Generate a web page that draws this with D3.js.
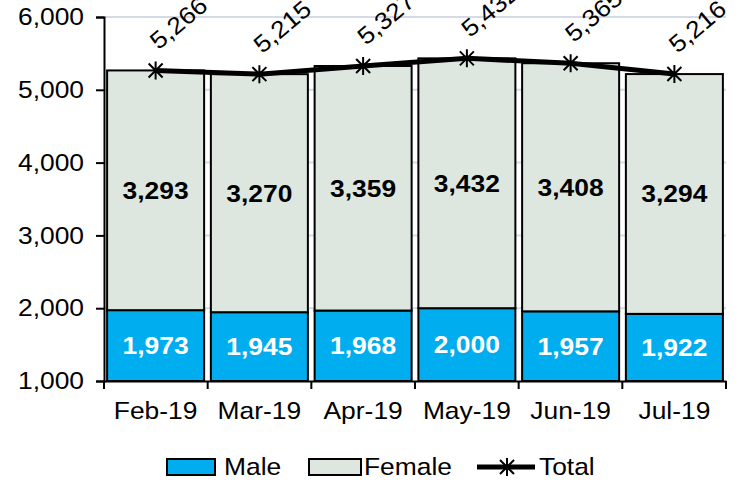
<!DOCTYPE html>
<html>
<head>
<meta charset="utf-8">
<script src="https://cdn.jsdelivr.net/npm/d3@7"></script>
<style>
  body { margin: 0; background: #fff; }
  text { font-family: "Liberation Sans", Arial, sans-serif; }
  .wide { transform-box: fill-box; transform-origin: center; transform: scaleX(1.1); }
  .wide-l { transform-box: fill-box; transform-origin: left center; transform: scaleX(1.1); }
  .wide-r { transform-box: fill-box; transform-origin: right center; transform: scaleX(1.1); }
</style>
</head>
<body>
<svg id="chart" width="745" height="480"></svg>
<script>
let months = ["Feb-19", "Mar-19", "Apr-19", "May-19", "Jun-19", "Jul-19"]
let male = [1973, 1945, 1968, 2000, 1957, 1922]
let female = [3293, 3270, 3359, 3432, 3408, 3294]
let total = [5266, 5215, 5327, 5432, 5365, 5216]
let yTicks = [1000, 2000, 3000, 4000, 5000, 6000]

let width = 745
let height = 480
let margin = { top: 17, right: 19, bottom: 99, left: 104 }

let svg = d3.select("#chart")
let fmt = d3.format(",")

let x = d3.scaleBand()
    .domain(months)
    .range([margin.left, width - margin.right])
    .paddingInner(0.065)
    .paddingOuter(0.03)

let y = d3.scaleLinear()
    .domain([1000, 6000])
    .range([height - margin.bottom, margin.top])

// gridlines
svg.append("g")
    .selectAll("line")
    .data(yTicks.slice(1))
    .join("line")
    .attr("x1", margin.left)
    .attr("x2", width - margin.right)
    .attr("y1", d => y(d))
    .attr("y2", d => y(d))
    .style("stroke", "#d5dbe6")
    .style("stroke-width", 2)

// male bars
svg.append("g")
    .selectAll("rect")
    .data(months)
    .join("rect")
    .attr("x", d => x(d))
    .attr("width", x.bandwidth())
    .attr("y", (d, i) => y(male[i]))
    .attr("height", (d, i) => y(1000) - y(male[i]))
    .style("fill", "#00aeef")
    .style("stroke", "#000")
    .style("stroke-width", 2)

// female bars
svg.append("g")
    .selectAll("rect")
    .data(months)
    .join("rect")
    .attr("x", d => x(d))
    .attr("width", x.bandwidth())
    .attr("y", (d, i) => y(male[i] + female[i]))
    .attr("height", (d, i) => y(male[i]) - y(male[i] + female[i]))
    .style("fill", "#dde7df")
    .style("stroke", "#000")
    .style("stroke-width", 2)

// axes
let yAxis = svg.append("g")
    .attr("transform", `translate(${margin.left},0)`)
    .call(d3.axisLeft(y).tickValues(yTicks).tickFormat(fmt).tickSize(8).tickPadding(12))
yAxis.selectAll("text").attr("class", "wide-r").style("font-size", "24px").style("fill", "#000")
yAxis.selectAll("line, path").style("stroke", "#000").style("stroke-width", 2)

let xAxis = svg.append("g")
    .attr("transform", `translate(0,${y(1000)})`)
    .call(d3.axisBottom(x).tickSize(0).tickPadding(21))
xAxis.select(".domain").style("stroke", "#000").style("stroke-width", 2)
xAxis.selectAll("text").attr("class", "wide").style("font-size", "24px").style("fill", "#000")

// boundary ticks between categories
let x0 = margin.left
let slot = (width - margin.right - margin.left) / months.length
svg.append("g")
    .selectAll("line")
    .data(d3.range(months.length + 1))
    .join("line")
    .attr("x1", i => x0 + i * slot)
    .attr("x2", i => x0 + i * slot)
    .attr("y1", y(1000))
    .attr("y2", y(1000) + 8)
    .style("stroke", "#000")
    .style("stroke-width", 2)

// bar labels
svg.append("g")
    .selectAll("text")
    .data(months)
    .join("text")
    .attr("class", "wide")
    .attr("x", d => x(d) + x.bandwidth() / 2)
    .attr("y", (d, i) => y(1000 + (male[i] - 1000) / 2))
    .attr("dy", "0.35em")
    .attr("text-anchor", "middle")
    .text((d, i) => fmt(male[i]))
    .style("font-size", "24px")
    .style("font-weight", "bold")
    .style("fill", "#fff")

svg.append("g")
    .selectAll("text")
    .data(months)
    .join("text")
    .attr("class", "wide")
    .attr("x", d => x(d) + x.bandwidth() / 2)
    .attr("y", (d, i) => y(male[i] + female[i] / 2))
    .attr("dy", "0.35em")
    .attr("text-anchor", "middle")
    .text((d, i) => fmt(female[i]))
    .style("font-size", "24px")
    .style("font-weight", "bold")
    .style("fill", "#000")

// total line
let cx = d => x(d) + x.bandwidth() / 2
let line = d3.line()
    .x(d => cx(d))
    .y((d, i) => y(total[i]))

svg.append("path")
    .attr("d", line(months))
    .style("fill", "none")
    .style("stroke", "#000")
    .style("stroke-width", 5)

let starPath = "M-7,-7L7,7M-7,7L7,-7M0,-9L0,9"
svg.append("g")
    .selectAll("path")
    .data(months)
    .join("path")
    .attr("d", starPath)
    .attr("transform", (d, i) => `translate(${cx(d)},${y(total[i])})`)
    .style("stroke", "#000")
    .style("stroke-width", 2)
    .style("fill", "none")

svg.append("g")
    .selectAll("g")
    .data(months)
    .join("g")
    .attr("transform", (d, i) => `translate(${cx(d) + 3},${y(total[i]) - 20}) rotate(-40)`)
    .append("text")
    .attr("class", "wide-l")
    .text((d, i) => fmt(total[i]))
    .style("font-size", "24px")
    .style("fill", "#000")

// legend
let legend = svg.append("g").attr("transform", "translate(0,467)")
legend.append("rect").attr("x", 167).attr("y", -8).attr("width", 48).attr("height", 16)
    .style("fill", "#00aeef").style("stroke", "#000").style("stroke-width", 2)
legend.append("text").attr("class", "wide-l").attr("x", 224).attr("dy", "0.35em").text("Male").style("font-size", "24px")
legend.append("rect").attr("x", 309).attr("y", -8).attr("width", 52).attr("height", 16)
    .style("fill", "#dde7df").style("stroke", "#000").style("stroke-width", 2)
legend.append("text").attr("class", "wide-l").attr("x", 364).attr("dy", "0.35em").text("Female").style("font-size", "24px")
legend.append("line").attr("x1", 477).attr("x2", 535).attr("y1", 0).attr("y2", 0)
    .style("stroke", "#000").style("stroke-width", 5)
legend.append("path").attr("d", starPath)
    .attr("transform", "translate(507,0)")
    .style("stroke", "#000").style("stroke-width", 2)
legend.append("text").attr("class", "wide-l").attr("x", 539).attr("dy", "0.35em").text("Total").style("font-size", "24px")
</script>
</body>
</html>
